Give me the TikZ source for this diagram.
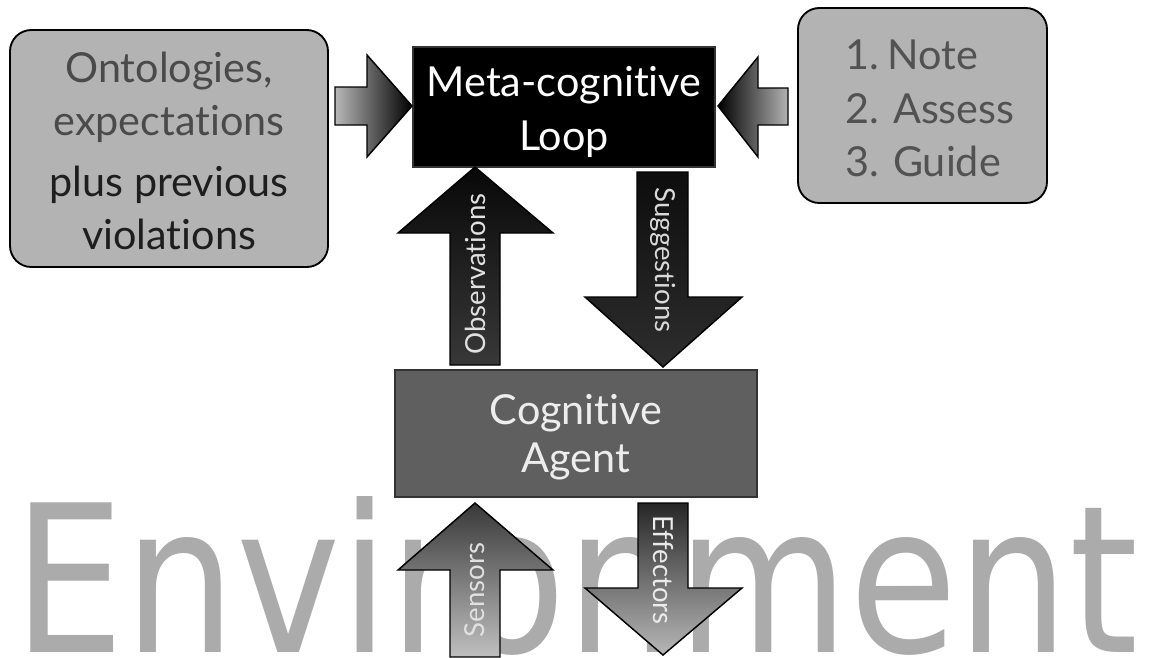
\documentclass[tikz,border=0pt]{standalone}
\usepackage{fontspec}
\setmainfont{Lato}[Ligatures=NoCommon]
\newfontfamily\listfont{Lato}[Ligatures=NoCommon, WordSpace=0.45]
\newfontfamily\envfont{DejaVu Sans}
\usetikzlibrary{fit}
\definecolor{panelgray}{HTML}{B3B3B3}
\definecolor{agentgray}{HTML}{5F5F5F}
\definecolor{envgray}{HTML}{ABABAB}
\definecolor{softtext}{HTML}{4A4A4A}
\definecolor{darktext}{HTML}{1E1E1E}
\definecolor{listtext}{HTML}{525252}
\begin{document}
\begin{tikzpicture}[x=0.75pt,y=-0.75pt,
  panel/.style={draw=black, line width=1.4pt, fill=panelgray, rounded corners=16pt, inner sep=0pt},
  block/.style={draw=black!80, line width=1.1pt, inner sep=0pt},
  blockarrow/.style={draw=black, line width=1.1pt, line join=miter},
  bigtext/.style={font=\fontsize{31}{40}\selectfont, inner sep=0pt, align=center},
  midtext/.style={font=\fontsize{31}{36}\selectfont, inner sep=0pt, align=center},
  arrowlabel/.style={font=\fontsize{20.7}{22}\selectfont, inner sep=0pt}]
\useasboundingbox (0,0) rectangle (1151,657);

% backdrop word
\node[anchor=base west, inner sep=0pt, text=envgray] (env) at (13,652)
  {\envfont\fontsize{154}{154}\selectfont\scalebox{0.858}[1]{Environment}};

% boxes
\node[panel, fit={(10,30) (328,267)}] (know) {};
\node[panel, fit={(798,8) (1047,203)}] (steps) {};
\node[block, fill=black, fit={(413,47) (715,167)}] (meta) {};
\node[block, fill=agentgray, fit={(395,370) (757,497)}] (agent) {};

% box texts
\node[bigtext, text=softtext] (knowA) at (169,97) {Ontologies,\\expectations};
\node[bigtext, text=darktext] (knowB) at (169,208) {plus previous\\violations};
\node[bigtext, text=white] (metatext) at (564,112) {Meta-cognitive\\Loop};
\node[midtext, text=white!93!black] (agenttext) at (576,437) {Cognitive\\Agent};
\node[bigtext, text=listtext, align=left, anchor=north west] (stepstext) at (845,40)
  {\listfont 1. Note\\2. Assess\\3. Guide};

% arrow into the loop from the left
\path[blockarrow, left color=black!28, right color=black]
  (335,87) -- (367,87) -- (367,55) -- (412,106) -- (367,157) -- (367,125) -- (335,125) -- cycle;
% arrow into the loop from the right
\path[blockarrow, left color=black, right color=black!30]
  (788,88) -- (758,88) -- (758,57) -- (718,106) -- (758,157) -- (758,125) -- (788,125) -- cycle;

% observations (up)
\path[blockarrow, top color=black!97, bottom color=black!78]
  (450,365) -- (450,233) -- (398,233) -- (475,167) -- (553,233) -- (500,233) -- (500,365) -- cycle;
% suggestions (down)
\path[blockarrow, top color=black!95, bottom color=black!82]
  (637,172) -- (688,172) -- (688,297) -- (742,297) -- (663,367) -- (585,297) -- (637,297) -- cycle;
% sensors (up)
\path[blockarrow, top color=black!78, bottom color=black!25]
  (450,657) -- (450,570) -- (398,570) -- (475,503) -- (553,570) -- (500,570) -- (500,657) -- cycle;
% effectors (down)
\path[blockarrow, top color=black!85, bottom color=black!28]
  (638,503) -- (688,503) -- (688,588) -- (742,588) -- (663,655) -- (585,588) -- (638,588) -- cycle;

% arrow labels
\node[arrowlabel, rotate=90, text=white!88!black] (obs) at (475,274) {Observations};
\node[arrowlabel, rotate=-90, text=white!85!black] (sug) at (663,260) {Suggestions};
\node[arrowlabel, rotate=90, text=white!88!black] (sen) at (475,590) {Sensors};
\node[arrowlabel, rotate=-90, text=white!92!black] (eff) at (663,570) {Effectors};
\end{tikzpicture}
\end{document}
